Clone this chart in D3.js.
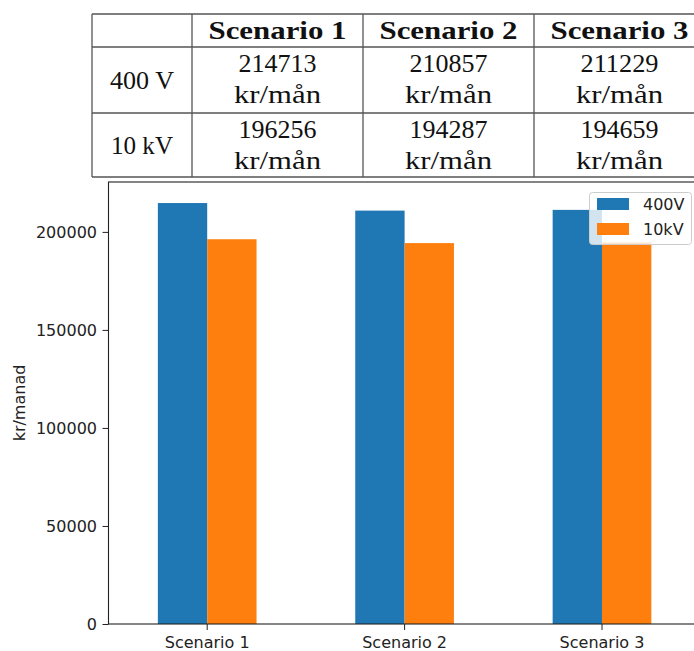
<!DOCTYPE html>
<html>
<head>
<meta charset="utf-8">
<script src="https://cdn.jsdelivr.net/npm/d3@7"></script>
<style>
  html, body { margin: 0; padding: 0; background: #fff; }
  svg { display: block; }
</style>
</head>
<body>
<svg id="chart" width="694" height="651"></svg>
<script>
(function () {
// ---- data ----
const categories = ["Scenario 1", "Scenario 2", "Scenario 3"];
const seriesNames = ["400V", "10kV"];
const values400V = [214713, 210857, 211229];
const values10kV = [196256, 194287, 194659];
const yTicks = [0, 50000, 100000, 150000, 200000];
const tableRowLabels = ["400 V", "10 kV"];
const tableUnit = "kr/mån";
const yLabel = "kr/manad";

const svg = d3.select("#chart");
const colors = ["#1f77b4", "#ff7f0e"];
const seriesValues = [values400V, values10kV];

// ---- table ----
const colEdges = [92, 192, 363, 534, 705];
const rowEdges = [14, 47, 113, 177];
const tbl = svg.append("g");
const lineColor = "#555";
rowEdges.forEach(yy => tbl.append("line").attr("x1", colEdges[0]).attr("x2", colEdges[colEdges.length-1])
  .attr("y1", yy).attr("y2", yy).attr("stroke", lineColor).attr("stroke-width", 1.3));
colEdges.forEach(xx => tbl.append("line").attr("x1", xx).attr("x2", xx)
  .attr("y1", rowEdges[0]).attr("y2", rowEdges[rowEdges.length-1]).attr("stroke", lineColor).attr("stroke-width", 1.3));

const serif = "'Liberation Serif', 'DejaVu Serif', serif";
categories.forEach((c, i) => {
  tbl.append("text").attr("x", (colEdges[i+1] + colEdges[i+2]) / 2).attr("y", 39)
    .attr("text-anchor", "middle").attr("font-family", serif).attr("font-weight", "bold")
    .attr("font-size", 25).attr("textLength", 138).attr("lengthAdjust", "spacingAndGlyphs")
    .attr("fill", "#111").text(c);
});
tableRowLabels.forEach((r, j) => {
  const rTop = rowEdges[j+1], rBot = rowEdges[j+2];
  tbl.append("text").attr("x", (colEdges[0] + colEdges[1]) / 2).attr("y", (rTop + rBot) / 2 + 8.5)
    .attr("text-anchor", "middle").attr("font-family", serif).attr("font-size", 25)
    .attr("textLength", j === 0 ? 64 : 62).attr("lengthAdjust", "spacingAndGlyphs")
    .attr("fill", "#111").text(r);
  categories.forEach((c, i) => {
    const cx = (colEdges[i+1] + colEdges[i+2]) / 2;
    tbl.append("text").attr("x", cx).attr("y", rTop + 25)
      .attr("text-anchor", "middle").attr("font-family", serif).attr("font-size", 25)
      .attr("textLength", 78).attr("lengthAdjust", "spacingAndGlyphs")
      .attr("fill", "#111").text(seriesValues[j][i]);
    tbl.append("text").attr("x", cx).attr("y", rTop + 56)
      .attr("text-anchor", "middle").attr("font-family", serif).attr("font-size", 25)
      .attr("textLength", 87).attr("lengthAdjust", "spacingAndGlyphs")
      .attr("fill", "#111").text(tableUnit);
  });
});

// ---- chart ----
const pLeft = 108.5, pTop = 182, pBottom = 624;
const step = 197.4;
const x = d3.scaleBand().domain(categories)
  .range([pLeft, pLeft + step * 3]).paddingInner(0.5).paddingOuter(0.25);
const xs = d3.scaleBand().domain(seriesNames).range([0, x.bandwidth()]);
const yMax = d3.max(values400V.concat(values10kV)) * 1.05;
const y = d3.scaleLinear().domain([0, yMax]).range([pBottom, pTop]);

const sans = "'DejaVu Sans', sans-serif";
const fs = 16;
const g = svg.append("g");

seriesNames.forEach((s, j) => {
  g.append("g").selectAll("rect").data(categories).join("rect")
    .attr("x", d => x(d) + xs(s))
    .attr("y", (d, i) => y(seriesValues[j][i]))
    .attr("width", xs.bandwidth())
    .attr("height", (d, i) => y(0) - y(seriesValues[j][i]))
    .attr("fill", colors[j]);
});

// frame (right side extends beyond view)
g.append("rect").attr("x", pLeft).attr("y", pTop).attr("width", step * 3).attr("height", pBottom - pTop)
  .attr("fill", "none").attr("stroke", "#222").attr("stroke-width", 1.1);

const xAxis = g.append("g").attr("transform", `translate(0,${pBottom})`)
  .call(d3.axisBottom(x).tickSize(6).tickPadding(6.5));
xAxis.select(".domain").remove();
xAxis.selectAll("text").attr("font-family", sans).attr("font-size", fs).attr("fill", "#222");
xAxis.selectAll("line").attr("stroke", "#222");

const yAxis = g.append("g").attr("transform", `translate(${pLeft},0)`)
  .call(d3.axisLeft(y).tickValues(yTicks).tickFormat(d3.format("d")).tickSize(6).tickPadding(5.5));
yAxis.select(".domain").remove();
yAxis.selectAll("text").attr("font-family", sans).attr("font-size", fs).attr("fill", "#222");
yAxis.selectAll("line").attr("stroke", "#222");

g.append("text").attr("transform", `translate(24.5,${(pTop + pBottom) / 2}) rotate(-90)`)
  .attr("text-anchor", "middle").attr("font-family", sans).attr("font-size", fs)
  .attr("fill", "#222").text(yLabel);

// legend
const lg = g.append("g");
lg.append("rect").attr("x", 589.5).attr("y", 192.5).attr("width", 102).attr("height", 52)
  .attr("rx", 3).attr("fill", "#fff").attr("fill-opacity", 0.8)
  .attr("stroke", "#ccc").attr("stroke-width", 1);
seriesNames.forEach((s, j) => {
  lg.append("rect").attr("x", 597).attr("y", 198 + j * 25).attr("width", 32).attr("height", 12)
    .attr("fill", colors[j]);
  lg.append("text").attr("x", 643).attr("y", 210 + j * 25).attr("font-family", sans)
    .attr("font-size", fs).attr("fill", "#222").text(s);
});
})();
</script>
</body>
</html>
